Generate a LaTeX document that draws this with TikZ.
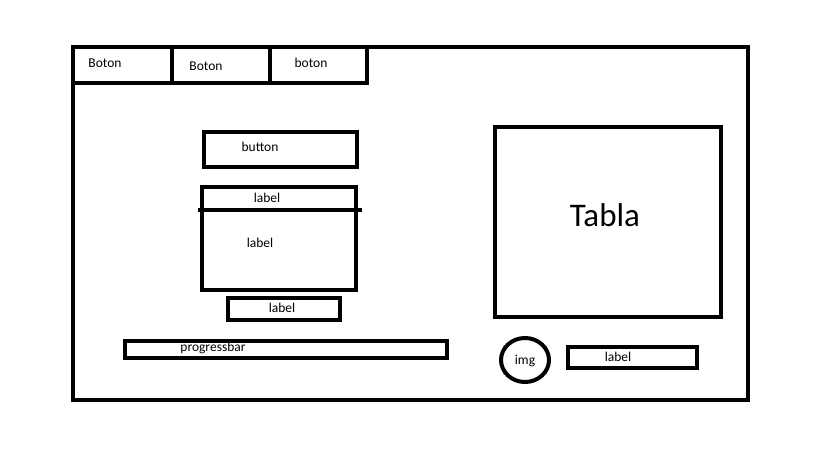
\documentclass[tikz,border=0pt]{standalone}
\usepackage{fontspec}
\setmainfont{Carlito}
\begin{document}
\begin{tikzpicture}[x=1pt,y=-1pt,
  box/.style={draw=black,line width=4pt},
  txt/.style={inner sep=0pt,font=\fontsize{13.5}{16}\selectfont},
  big/.style={inner sep=0pt,font=\fontsize{33}{38}\selectfont}]
\useasboundingbox (0,0) rectangle (819,460);
% outer frame
\draw[box] (73,47) rectangle (748,400);
% tabs
\draw[box] (73,47) rectangle (172,82.5);
\draw[box] (172,47) rectangle (270,82.5);
\draw[box] (270,47) rectangle (367,82.5);
\node[txt] (t1) at (105,63) {Boton};
\node[txt] (t2) at (206,66) {Boton};
\node[txt] (t3) at (311,63) {boton};
% button
\draw[box] (204,132) rectangle (357,167);
\node[txt] (bt) at (260,147) {button};
% label box with header
\draw[box] (202,187) rectangle (356,290);
\draw[box] (198,209.5) -- (362,209.5);
\node[txt] (l1) at (267,198) {label};
\node[txt] (l2) at (260,243) {label};
% small label
\draw[box] (228,297.5) rectangle (340,320);
\node[txt] (l3) at (282,308) {label};
% Tabla
\draw[box] (495,127) rectangle (721,317);
\node[big] (tab) at (605,215) {Tabla};
% progressbar
\draw[box] (125,341) rectangle (447,358);
\node[txt] (pb) at (213,348) {progressbar};
% img
\draw[box] (525,360) ellipse [x radius=24, y radius=22];
\node[txt] (img) at (525,361) {img};
% label right
\draw[box] (568,347) rectangle (697,368);
\node[txt] (l4) at (618,357) {label};
\end{tikzpicture}
\end{document}
